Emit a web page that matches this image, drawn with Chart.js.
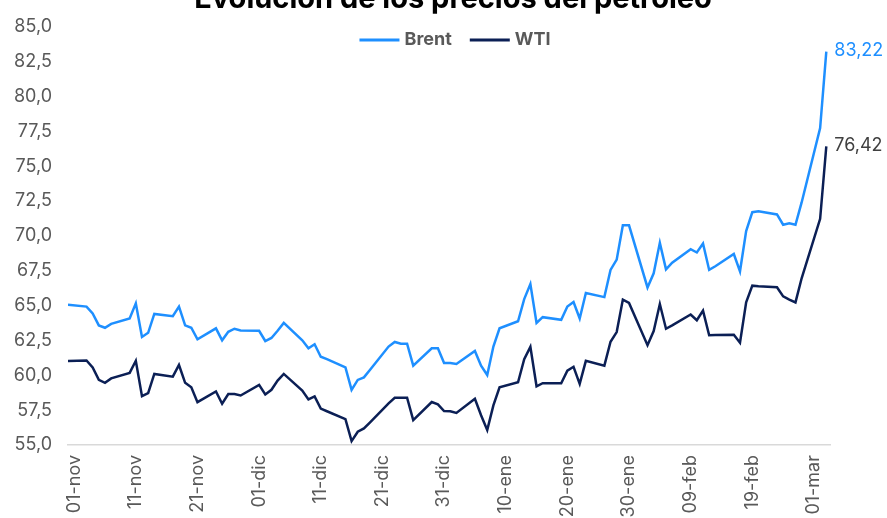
<!DOCTYPE html>
<html>
<head>
<meta charset="utf-8">
<script src="https://cdn.jsdelivr.net/npm/chart.js@4.4.1/dist/chart.umd.min.js"></script>
<style>
  html, body { margin: 0; padding: 0; background: #fff; }
  #wrap { width: 887px; height: 518px; }
</style>
</head>
<body>
<div id="wrap"><canvas id="graph"></canvas></div>
<script>
//Trading days (weekdays) of the series
var fechas = [
    '2025-10-31',
    '2025-11-03', '2025-11-04', '2025-11-05', '2025-11-06', '2025-11-07',
    '2025-11-10', '2025-11-11', '2025-11-12', '2025-11-13', '2025-11-14',
    '2025-11-17', '2025-11-18', '2025-11-19', '2025-11-20', '2025-11-21',
    '2025-11-24', '2025-11-25', '2025-11-26', '2025-11-27', '2025-11-28',
    '2025-12-01', '2025-12-02', '2025-12-03', '2025-12-04', '2025-12-05',
    '2025-12-08', '2025-12-09', '2025-12-10', '2025-12-11', '2025-12-12',
    '2025-12-15', '2025-12-16', '2025-12-17', '2025-12-18', '2025-12-19',
    '2025-12-22', '2025-12-23', '2025-12-24', '2025-12-25', '2025-12-26',
    '2025-12-29', '2025-12-30', '2025-12-31', '2026-01-01', '2026-01-02',
    '2026-01-05', '2026-01-06', '2026-01-07', '2026-01-08', '2026-01-09',
    '2026-01-12', '2026-01-13', '2026-01-14', '2026-01-15', '2026-01-16',
    '2026-01-19', '2026-01-20', '2026-01-21', '2026-01-22', '2026-01-23',
    '2026-01-26', '2026-01-27', '2026-01-28', '2026-01-29', '2026-01-30',
    '2026-02-02', '2026-02-03', '2026-02-04', '2026-02-05', '2026-02-06',
    '2026-02-09', '2026-02-10', '2026-02-11', '2026-02-12', '2026-02-13',
    '2026-02-16', '2026-02-17', '2026-02-18', '2026-02-19', '2026-02-20',
    '2026-02-23', '2026-02-24', '2026-02-25', '2026-02-26', '2026-02-27',
    '2026-03-02', '2026-03-03'
];

//Brent, USD/barril
var brent = [
    65.07,
    64.93, 64.43, 63.58, 63.41, 63.69,
    64.08, 65.16, 62.75, 63.05, 64.40,
    64.24, 64.93, 63.58, 63.41, 62.58,
    63.37, 62.51, 63.12, 63.34, 63.22,
    63.19, 62.46, 62.68, 63.20, 63.76,
    62.51, 61.94, 62.23, 61.33, 61.16,
    60.57, 58.96, 59.67, 59.85, 60.40,
    62.06, 62.39, 62.27, 62.27, 60.69,
    61.94, 61.94, 60.88, 60.88, 60.81,
    61.75, 60.69, 60.02, 62.06, 63.37,
    63.88, 65.47, 66.54, 63.76, 64.17,
    63.98, 64.93, 65.26, 64.08, 65.90,
    65.61, 67.56, 68.30, 70.76, 70.76,
    66.30, 67.32, 69.50, 67.60, 68.08,
    69.05, 68.81, 69.45, 67.56, 67.82,
    68.70, 67.46, 70.35, 71.70, 71.77,
    71.54, 70.80, 70.90, 70.80, 72.40,
    77.74, 83.22
];

//WTI, USD/barril
var wti = [
    61.02,
    61.06, 60.56, 59.67, 59.46, 59.78,
    60.17, 61.04, 58.50, 58.72, 60.10,
    59.90, 60.74, 59.46, 59.14, 58.07,
    58.84, 57.96, 58.65, 58.65, 58.55,
    59.31, 58.62, 58.96, 59.62, 60.10,
    58.91, 58.27, 58.48, 57.61, 57.42,
    56.85, 55.28, 55.95, 56.19, 56.63,
    57.99, 58.39, 58.39, 58.39, 56.78,
    58.08, 57.91, 57.44, 57.42, 57.30,
    58.32, 57.13, 56.07, 57.84, 59.14,
    59.50, 61.16, 62.04, 59.21, 59.43,
    59.43, 60.33, 60.61, 59.39, 61.04,
    60.69, 62.41, 63.10, 65.43, 65.19,
    62.16, 63.17, 65.11, 63.34, 63.58,
    64.36, 63.95, 64.64, 62.87, 62.89,
    62.91, 62.34, 65.24, 66.43, 66.39,
    66.32, 65.66, 65.43, 65.23, 66.96,
    71.23, 76.42
];

//x axis tick dates and labels
var tick_fechas = ['2025-11-01', '2025-11-11', '2025-11-21', '2025-12-01', '2025-12-11', '2025-12-21', '2025-12-31',
    '2026-01-10', '2026-01-20', '2026-01-30', '2026-02-09', '2026-02-19', '2026-03-01'];
var tick_labels = ['01-nov', '11-nov', '21-nov', '01-dic', '11-dic', '21-dic', '31-dic',
    '10-ene', '20-ene', '30-ene', '09-feb', '19-feb', '01-mar'];

var titulo = 'Evolución de los precios del petróleo';

//days since 01-nov
var base = Date.UTC(2025, 10, 1);
function to_day(f) {
    var p = f.split('-');
    return (Date.UTC(+p[0], +p[1] - 1, +p[2]) - base) / 86400000;
}

function comma(v, d) {
    return v.toFixed(d).replace('.', ',');
}

var GRAY = '#595959';
var BLUE = '#1E8FFF';
var NAVY = '#0B1F55';

//title is cut at the top of the picture
var title_plugin = {
    id: 'title_cut',
    afterDraw: function (chart) {
        var ctx = chart.ctx;
        ctx.save();
        ctx.font = 'bold 29px Inter';
        ctx.fillStyle = '#000';
        ctx.textAlign = 'center';
        ctx.textBaseline = 'alphabetic';
        ctx.fillText(titulo, 453, 8);
        ctx.restore();
    }
};

//legend drawn inside the plot, centered on top
var legend_plugin = {
    id: 'legend_top',
    afterDraw: function (chart) {
        var ctx = chart.ctx;
        var sets = chart.data.datasets;
        ctx.save();
        ctx.font = 'bold 18px Inter';
        ctx.textBaseline = 'middle';
        var line_w = 40, gap = 5, space = 18;
        var total = 0;
        sets.forEach(function (ds, i) {
            total += line_w + gap + ctx.measureText(ds.label).width + (i > 0 ? space : 0);
        });
        var x = 455 - total / 2;
        var y = 40;
        sets.forEach(function (ds) {
            ctx.fillStyle = ds.borderColor;
            ctx.fillRect(x, y - 1.5, line_w, 3);
            x += line_w + gap;
            ctx.fillStyle = GRAY;
            ctx.fillText(ds.label, x, y);
            x += ctx.measureText(ds.label).width + space;
        });
        ctx.restore();
    }
};

//last value next to each line
var end_labels = {
    id: 'end_labels',
    afterDatasetsDraw: function (chart) {
        var ctx = chart.ctx;
        ctx.save();
        ctx.font = '18px Inter';
        ctx.textAlign = 'left';
        ctx.textBaseline = 'middle';
        chart.data.datasets.forEach(function (ds, i) {
            var pts = chart.getDatasetMeta(i).data;
            var last = pts[pts.length - 1];
            ctx.fillStyle = ds.endColor;
            ctx.fillText(comma(ds.data[ds.data.length - 1].y, 2), last.x + 8, last.y - 1);
        });
        ctx.restore();
    }
};

function points(vals) {
    return vals.map(function (v, i) { return { x: to_day(fechas[i]), y: v }; });
}

new Chart(document.getElementById('graph'), {
    type: 'line',
    data: {
        datasets: [{
            label: 'Brent',
            data: points(brent),
            borderColor: BLUE,
            endColor: BLUE,
            borderWidth: 2.5,
            pointRadius: 0,
            tension: 0
        }, {
            label: 'WTI',
            data: points(wti),
            borderColor: NAVY,
            endColor: '#404040',
            borderWidth: 2.5,
            pointRadius: 0,
            tension: 0
        }]
    },
    options: {
        responsive: true,
        maintainAspectRatio: false,
        animation: false,
        layout: { padding: { left: 0, right: 57, top: 23, bottom: 0 } },
        plugins: {
            tooltip: { enabled: false },
            legend: { display: false }
        },
        scales: {
            x: {
                type: 'linear',
                min: -1,
                max: 122.6,
                afterBuildTicks: function (s) {
                    s.ticks = tick_fechas.map(function (f) { return { value: to_day(f) }; });
                },
                afterFit: function (s) { s.height = 73; },
                ticks: {
                    autoSkip: false,
                    minRotation: 90,
                    maxRotation: 90,
                    padding: 10,
                    color: GRAY,
                    font: { family: 'Inter', size: 18 },
                    callback: function (v, i) { return tick_labels[i]; }
                },
                grid: { display: false, drawTicks: false },
                border: { display: true, color: '#d9d9d9', width: 1.5 }
            },
            y: {
                min: 55,
                max: 85,
                afterBuildTicks: function (s) {
                    var t = [];
                    for (var v = 55; v <= 85; v += 2.5) t.push({ value: v });
                    s.ticks = t;
                },
                afterFit: function (s) { s.width = 68; },
                ticks: {
                    padding: 16,
                    color: GRAY,
                    font: { family: 'Inter', size: 18 },
                    callback: function (v) { return comma(v, 1); }
                },
                grid: { display: false, drawTicks: false },
                border: { display: false }
            }
        }
    },
    plugins: [title_plugin, legend_plugin, end_labels]
});
</script>
</body>
</html>
